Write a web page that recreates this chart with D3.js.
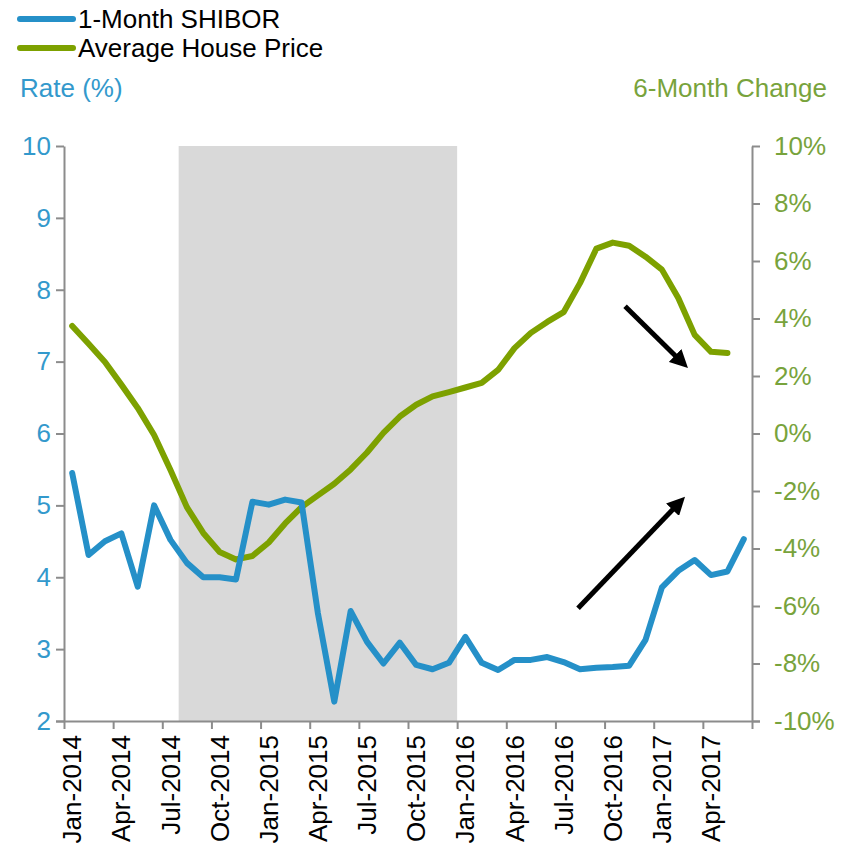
<!DOCTYPE html>
<html>
<head>
<meta charset="utf-8">
<script src="https://cdn.jsdelivr.net/npm/d3@7"></script>
<style>
  body { margin: 0; background: #fff; }
  svg { font-family: "Liberation Sans", Arial, sans-serif; }
</style>
</head>
<body>
<svg id="chart" width="850" height="848"></svg>
<script>
// monthly categories
const months = [
  "Jan-2014","Feb-2014","Mar-2014","Apr-2014","May-2014","Jun-2014","Jul-2014","Aug-2014","Sep-2014","Oct-2014","Nov-2014","Dec-2014",
  "Jan-2015","Feb-2015","Mar-2015","Apr-2015","May-2015","Jun-2015","Jul-2015","Aug-2015","Sep-2015","Oct-2015","Nov-2015","Dec-2015",
  "Jan-2016","Feb-2016","Mar-2016","Apr-2016","May-2016","Jun-2016","Jul-2016","Aug-2016","Sep-2016","Oct-2016","Nov-2016","Dec-2016",
  "Jan-2017","Feb-2017","Mar-2017","Apr-2017","May-2017","Jun-2017"
];

// 1-Month SHIBOR, %
const shibor = [
  5.45, 4.31, 4.50, 4.61, 3.87, 5.00, 4.52, 4.20, 4.00, 4.00, 3.97, 5.05,
  5.01, 5.08, 5.04, 3.50, 2.27, 3.53, 3.10, 2.80, 3.09, 2.78, 2.72, 2.81,
  3.17, 2.81, 2.71, 2.85, 2.85, 2.89, 2.82, 2.72, 2.74, 2.75, 2.77, 3.13,
  3.86, 4.09, 4.24, 4.03, 4.08, 4.53
];

// Average house price, 6-month change, % (no Jun-2017 value)
const housePrice = [
  3.74, 3.12, 2.49, 1.70, 0.89, -0.05, -1.27, -2.56, -3.46, -4.12, -4.38, -4.26,
  -3.79, -3.13, -2.56, -2.15, -1.75, -1.25, -0.66, 0.02, 0.59, 1.00, 1.29, 1.44,
  1.60, 1.76, 2.21, 2.97, 3.50, 3.88, 4.22, 5.23, 6.43, 6.64, 6.53, 6.15,
  5.70, 4.71, 3.43, 2.84, 2.80
];

const leftTicks = [2, 3, 4, 5, 6, 7, 8, 9, 10];
const rightTicks = [-10, -8, -6, -4, -2, 0, 2, 4, 6, 8, 10];
const labelEvery = 3;
const shadeFrom = "Aug-2014", shadeTo = "Dec-2015";
const seriesNames = ["1-Month SHIBOR", "Average House Price"];

// arrows: [monthIndex, rate] start -> end
const arrows = [
  { from: [34.25, 7.77], to: [38.09, 6.91] },
  { from: [31.38, 3.57], to: [37.91, 5.12] }
];

const blue = "#2590c8", green = "#7da100";
const blueText = "#3399cc", greenText = "#78a33c";
const axisGrey = "#8c8c8c";
const fontSize = "26px";

const margin = { top: 146, right: 98, bottom: 127, left: 64 },
      width = 850 - margin.left - margin.right,
      height = 848 - margin.top - margin.bottom;

const svg = d3.select("#chart");
const g = svg.append("g").attr("transform", `translate(${margin.left},${margin.top})`);

const x = d3.scaleBand().domain(months).range([0, width]).padding(0);
const xi = d3.scaleLinear().domain([0, months.length]).range([0, width]);
const yL = d3.scaleLinear().domain([2, 10]).range([height, 0]);
const yR = d3.scaleLinear().domain([-10, 10]).range([height, 0]);

// shaded period
g.append("rect")
    .attr("x", x(shadeFrom))
    .attr("y", 0)
    .attr("width", x(shadeTo) + x.bandwidth() - x(shadeFrom))
    .attr("height", height)
    .attr("fill", "#d9d9d9");

// axes
function styleAxis(sel) {
    sel.select(".domain").attr("stroke", axisGrey).attr("stroke-width", 2);
    sel.selectAll(".tick line").attr("stroke", axisGrey).attr("stroke-width", 2);
    sel.selectAll(".tick text").style("font-size", fontSize);
}

const leftAxis = g.append("g")
    .call(d3.axisLeft(yL).tickValues(leftTicks).tickSize(8).tickSizeOuter(0).tickPadding(5))
    .call(styleAxis);
leftAxis.selectAll(".tick text").attr("fill", blueText);

const rightAxis = g.append("g")
    .attr("transform", `translate(${width},0)`)
    .call(d3.axisRight(yR).tickValues(rightTicks).tickSize(8).tickSizeOuter(0).tickPadding(14)
        .tickFormat(d => d + "%"))
    .call(styleAxis);
rightAxis.selectAll(".tick text").attr("fill", greenText);

const xAxis = g.append("g")
    .attr("transform", `translate(0,${height})`)
    .call(d3.axisBottom(xi).tickValues(d3.range(0, months.length + 1, labelEvery)).tickSize(8)
        .tickSizeOuter(0).tickFormat(""))
    .call(styleAxis);
xAxis.select(".domain").attr("d", `M-8,0.5H${width + 8}`);

g.append("g")
    .selectAll("text")
    .data(months.filter((m, i) => i % labelEvery === 0))
    .enter().append("text")
    .attr("transform", d => `translate(${x(d) + x.bandwidth() / 2},${height + 14}) rotate(-90)`)
    .attr("text-anchor", "end")
    .attr("dy", "0.35em")
    .style("font-size", fontSize)
    .attr("fill", "#000")
    .text(d => d);

// lines
const lineL = d3.line().x((d, i) => x(months[i]) + x.bandwidth() / 2).y(d => yL(d));
const lineR = d3.line().x((d, i) => x(months[i]) + x.bandwidth() / 2).y(d => yR(d));

g.append("path").datum(housePrice)
    .attr("d", lineR).attr("fill", "none")
    .attr("stroke", green).attr("stroke-width", 6)
    .attr("stroke-linejoin", "round").attr("stroke-linecap", "round");

g.append("path").datum(shibor)
    .attr("d", lineL).attr("fill", "none")
    .attr("stroke", blue).attr("stroke-width", 6)
    .attr("stroke-linejoin", "round").attr("stroke-linecap", "round");

// arrows
svg.append("defs").append("marker")
    .attr("id", "head")
    .attr("markerUnits", "userSpaceOnUse")
    .attr("viewBox", "0 0 10 10")
    .attr("refX", 10).attr("refY", 5)
    .attr("markerWidth", 18).attr("markerHeight", 18)
    .attr("orient", "auto")
    .append("path").attr("d", "M0,0L10,5L0,10Z").attr("fill", "#000");

arrows.forEach(a => {
    const x1 = xi(a.from[0]), y1 = yL(a.from[1]);
    const x2 = xi(a.to[0]), y2 = yL(a.to[1]);
    const len = Math.hypot(x2 - x1, y2 - y1);
    const k = (len - 12) / len; // stop the shaft under the head
    g.append("line")
        .attr("x1", x1).attr("y1", y1)
        .attr("x2", x1 + (x2 - x1) * k).attr("y2", y1 + (y2 - y1) * k)
        .attr("stroke", "#000").attr("stroke-width", 5);
    g.append("path")
        .attr("d", `M${x1},${y1}L${x2},${y2}`)
        .attr("stroke", "none").attr("fill", "none")
        .attr("marker-end", "url(#head)");
});

// axis titles
svg.append("text").attr("x", 20).attr("y", 97)
    .style("font-size", fontSize).attr("fill", blueText).text("Rate (%)");
svg.append("text").attr("x", 827).attr("y", 97).attr("text-anchor", "end")
    .style("font-size", fontSize).attr("fill", greenText).text("6-Month Change");

// legend
const legend = svg.append("g").attr("transform", "translate(20,19)");
seriesNames.forEach((name, i) => {
    const item = legend.append("g").attr("transform", `translate(0,${i * 29})`);
    item.append("line")
        .attr("x1", 0).attr("x2", 53).attr("y1", 0).attr("y2", 0)
        .attr("stroke", i === 0 ? blue : green).attr("stroke-width", 6)
        .attr("stroke-linecap", "round");
    item.append("text")
        .attr("x", 58).attr("y", 0).attr("dy", "0.35em")
        .style("font-size", fontSize).attr("fill", "#000")
        .text(name);
});
</script>
</body>
</html>
